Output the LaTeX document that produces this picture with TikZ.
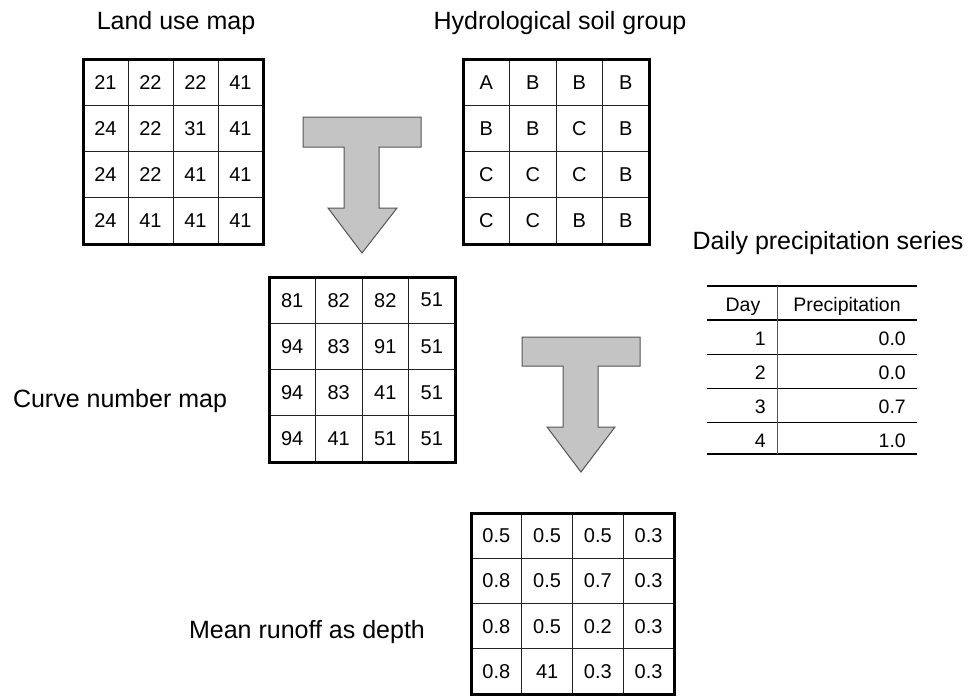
\documentclass[tikz,border=0pt]{standalone}
\usepackage{fontspec}
\setmainfont{Liberation Sans}
\definecolor{arrowfill}{HTML}{C4C4C4}
\definecolor{arrowline}{HTML}{555555}
\definecolor{gridline}{HTML}{222222}
\tikzset{
  lbl/.style={anchor=base, inner sep=0pt, font=\fontsize{25}{30}\selectfont},
  cellbox/.style={draw=gridline, line width=0.9pt, inner sep=0pt, outer sep=0pt, font=\fontsize{20}{24}\selectfont},
  border/.style={draw=black, line width=3pt},
  bigarrow/.style={fill=arrowfill, draw=arrowline, line width=1pt, line join=miter},
  tabtxt/.style={inner sep=0pt, anchor=base, font=\fontsize{19.5}{23}\selectfont},
  thickrule/.style={line width=2.6pt},
  thinrule/.style={line width=1pt},
}
\begin{document}
\begin{tikzpicture}[x=1pt,y=-1pt]
\useasboundingbox (0,0) rectangle (970,696);
% ---------- labels ----------
\node[lbl] (llu) at (176,30) {Land use map};
\node[lbl] (lhs) at (560,29) {Hydrological soil group};
\node[lbl] (lcn) at (120,407) {Curve number map};
\node[lbl] (ldp) at (828,249) {Daily precipitation series};
\node[lbl] (lro) at (307,638) {Mean runoff as depth};
% ---------- land use grid ----------
\foreach \r/\row in {1/{21,22,22,41},2/{24,22,31,41},3/{24,22,41,41},4/{24,41,41,41}}{
  \foreach \v [count=\c] in \row {
    \node[cellbox, minimum width=45pt, minimum height=46.25pt] (lu-\r-\c) at ({83+(\c-0.5)*45},{59+(\r-0.5)*46.25}) {\v};
  }
}
\draw[border] (lu-1-1.north west) rectangle (lu-4-4.south east);
% ---------- soil group grid ----------
\foreach \r/\row in {1/{A,B,B,B},2/{B,B,C,B},3/{C,C,C,B},4/{C,C,B,B}}{
  \foreach \v [count=\c] in \row {
    \node[cellbox, minimum width=46.5pt, minimum height=46.25pt] (hs-\r-\c) at ({463+(\c-0.5)*46.5},{59+(\r-0.5)*46.25}) {\v};
  }
}
\draw[border] (hs-1-1.north west) rectangle (hs-4-4.south east);
% ---------- curve number grid ----------
\foreach \r/\row in {1/{81,82,82,51},2/{94,83,91,51},3/{94,83,41,51},4/{94,41,51,51}}{
  \foreach \v [count=\c] in \row {
    \node[cellbox, minimum width=46.5pt, minimum height=46.25pt] (cn-\r-\c) at ({269+(\c-0.5)*46.5},{277+(\r-0.5)*46.25}) {\v};
  }
}
\draw[border] (cn-1-1.north west) rectangle (cn-4-4.south east);
% ---------- runoff grid ----------
\foreach \r/\row in {1/{0.5,0.5,0.5,0.3},2/{0.8,0.5,0.7,0.3},3/{0.8,0.5,0.2,0.3},4/{0.8,41,0.3,0.3}}{
  \foreach \v [count=\c] in \row {
    \node[cellbox, minimum width=50.75pt, minimum height=45.25pt] (ro-\r-\c) at ({471+(\c-0.5)*50.75},{513+(\r-0.5)*45.25}) {\v};
  }
}
\draw[border] (ro-1-1.north west) rectangle (ro-4-4.south east);
% ---------- big arrows ----------
\draw[bigarrow] (303,117) -- (421,117) -- (421,147) -- (379,147) -- (379,208) -- (397,208)
  -- (362,253) -- (328,208) -- (344,208) -- (344,147) -- (303,147) -- cycle;
\draw[bigarrow] (522,337) -- (640,337) -- (640,366) -- (598,366) -- (598,427) -- (615,427)
  -- (581,472) -- (547,427) -- (563,427) -- (563,366) -- (522,366) -- cycle;
% ---------- precipitation table ----------
\node[tabtxt] (th1) at (743,311) {Day};
\node[tabtxt] (th2) at (847,311) {Precipitation};
\foreach \d/\p [count=\i] in {1/0.0,2/0.0,3/0.7,4/1.0}{
  \node[tabtxt, anchor=base east] (td-\i) at (766,{311+\i*34}) {\d};
  \node[tabtxt, anchor=base east] (tp-\i) at (906,{311+\i*34}) {\p};
}
\draw[thickrule] (707,286) -- (917,286);
\draw[thickrule] (707,320) -- (917,320);
\draw[thinrule] (707,354) -- (917,354);
\draw[thinrule] (707,388) -- (917,388);
\draw[thinrule] (707,422) -- (917,422);
\draw[thickrule] (707,454) -- (917,454);
\draw[line width=1pt, draw=arrowline] (777,286) -- (777,454);
\end{tikzpicture}
\end{document}
